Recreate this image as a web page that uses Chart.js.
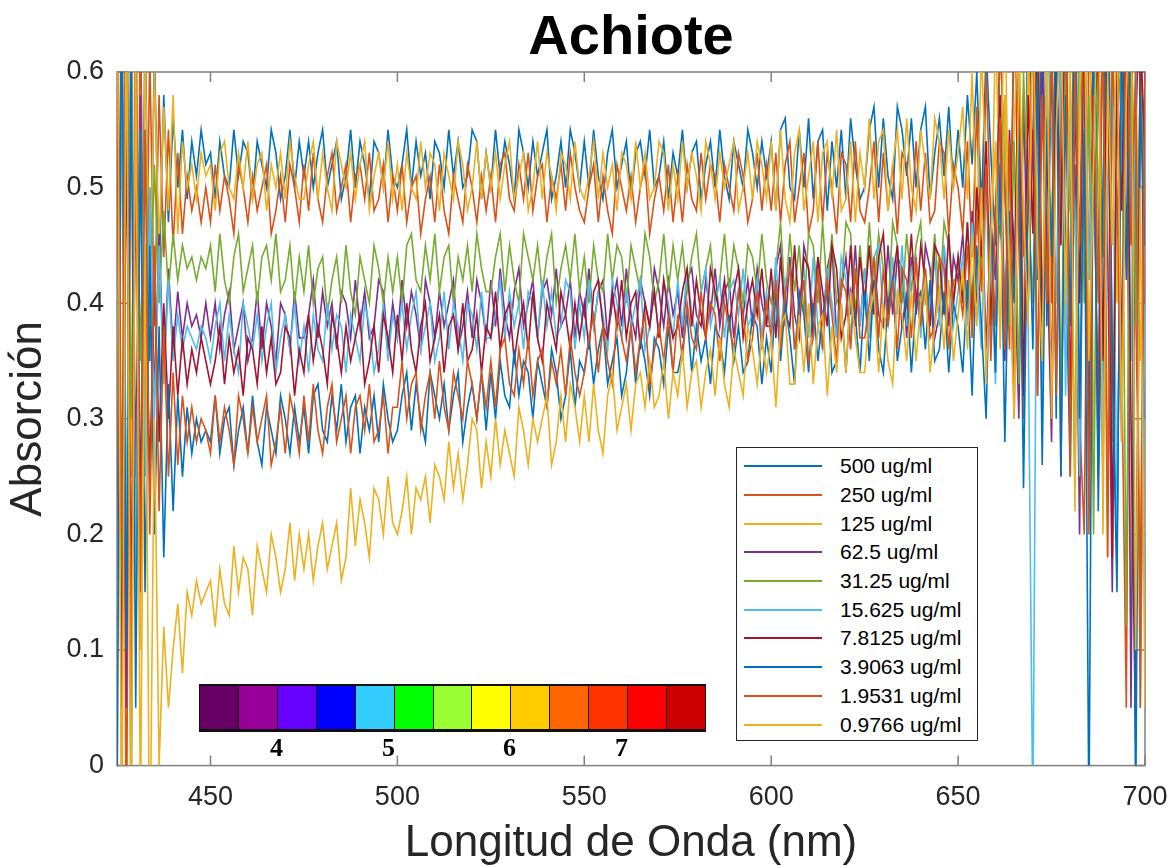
<!DOCTYPE html>
<html>
<head>
<meta charset="utf-8">
<title>Achiote</title>
<script src="https://cdn.jsdelivr.net/npm/chart.js@4.4.1/dist/chart.umd.min.js"></script>
<style>
  body { margin: 0; background: #fff; }
  #wrap { position: relative; width: 1172px; height: 867px; }
  #legend {
    position: absolute; left: 736px; top: 447px; width: 242px; height: 294px;
    box-sizing: border-box; border: 1px solid #262626; background: #fff;
    padding-top: 4px; font-family: 'Liberation Sans', Arial, sans-serif;
  }
  .row { height: 28.7px; display: flex; align-items: center; }
  .row .swatch { margin-left: 7px; width: 78px; height: 2px; }
  .row span { margin-left: 18px; font-size: 21px; color: #000; white-space: nowrap; }
  #phbar {
    position: absolute; left: 199px; top: 684px; width: 507px; height: 48px;
    box-sizing: border-box; border-top: 2px solid #111; border-bottom: 3px solid #111;
    border-left: 1px solid #111; display: flex;
  }
  #phbar div { flex: 1; border-right: 1px solid #111; }
  .ph { position: absolute; top: 733px; font: bold 26px 'Liberation Serif', 'Times New Roman', serif; color: #000; }
</style>
</head>
<body>
<div id="wrap">
  <canvas id="chart" width="1172" height="867"></canvas>
  <div id="legend"></div>
  <div id="phbar"></div>
</div>
<script>
// wavelengths (nm)
const wavelengths = [
  425, 426.25, 427.5, 428.75, 430, 431.25, 432.5, 433.75, 435, 436.25, 437.5, 438.75, 440, 441.25, 442.5, 443.75, 445, 446.25, 447.5, 448.75,
  450, 451.25, 452.5, 453.75, 455, 456.25, 457.5, 458.75, 460, 461.25, 462.5, 463.75, 465, 466.25, 467.5, 468.75, 470, 471.25, 472.5, 473.75,
  475, 476.25, 477.5, 478.75, 480, 481.25, 482.5, 483.75, 485, 486.25, 487.5, 488.75, 490, 491.25, 492.5, 493.75, 495, 496.25, 497.5, 498.75,
  500, 501.25, 502.5, 503.75, 505, 506.25, 507.5, 508.75, 510, 511.25, 512.5, 513.75, 515, 516.25, 517.5, 518.75, 520, 521.25, 522.5, 523.75,
  525, 526.25, 527.5, 528.75, 530, 531.25, 532.5, 533.75, 535, 536.25, 537.5, 538.75, 540, 541.25, 542.5, 543.75, 545, 546.25, 547.5, 548.75,
  550, 551.25, 552.5, 553.75, 555, 556.25, 557.5, 558.75, 560, 561.25, 562.5, 563.75, 565, 566.25, 567.5, 568.75, 570, 571.25, 572.5, 573.75,
  575, 576.25, 577.5, 578.75, 580, 581.25, 582.5, 583.75, 585, 586.25, 587.5, 588.75, 590, 591.25, 592.5, 593.75, 595, 596.25, 597.5, 598.75,
  600, 601.25, 602.5, 603.75, 605, 606.25, 607.5, 608.75, 610, 611.25, 612.5, 613.75, 615, 616.25, 617.5, 618.75, 620, 621.25, 622.5, 623.75,
  625, 626.25, 627.5, 628.75, 630, 631.25, 632.5, 633.75, 635, 636.25, 637.5, 638.75, 640, 641.25, 642.5, 643.75, 645, 646.25, 647.5, 648.75,
  650, 651.25, 652.5, 653.75, 655, 656.25, 657.5, 658.75, 660, 661.25, 662.5, 663.75, 665, 666.25, 667.5, 668.75, 670, 671.25, 672.5, 673.75,
  675, 676.25, 677.5, 678.75, 680, 681.25, 682.5, 683.75, 685, 686.25, 687.5, 688.75, 690, 691.25, 692.5, 693.75, 695, 696.25, 697.5, 698.75,
  700
];

// absorbance for each concentration
const abs500 = [
  0.75, 0.10, 0.70, -0.05, 0.68, 0.20, 0.65, 0.35, 0.62, 0.42, 0.58, 0.47, 0.56, 0.50, 0.55, 0.49, 0.54, 0.51, 0.55, 0.52,
  0.53, 0.49, 0.54, 0.51, 0.50, 0.55, 0.51, 0.54, 0.53, 0.49, 0.54, 0.52, 0.50, 0.55, 0.53, 0.49, 0.51, 0.55, 0.50, 0.54,
  0.51, 0.54, 0.50, 0.53, 0.55, 0.50, 0.52, 0.54, 0.49, 0.51, 0.55, 0.50, 0.54, 0.52, 0.49, 0.54, 0.53, 0.50, 0.55, 0.51,
  0.50, 0.52, 0.55, 0.50, 0.54, 0.51, 0.53, 0.49, 0.54, 0.53, 0.50, 0.55, 0.51, 0.54, 0.50, 0.51, 0.55, 0.54, 0.49, 0.53,
  0.50, 0.55, 0.51, 0.54, 0.52, 0.49, 0.55, 0.53, 0.50, 0.54, 0.51, 0.53, 0.55, 0.49, 0.51, 0.54, 0.50, 0.55, 0.53, 0.50,
  0.54, 0.50, 0.55, 0.51, 0.49, 0.53, 0.55, 0.50, 0.52, 0.54, 0.49, 0.53, 0.54, 0.51, 0.55, 0.50, 0.51, 0.54, 0.49, 0.53,
  0.51, 0.55, 0.50, 0.53, 0.54, 0.49, 0.52, 0.54, 0.50, 0.55, 0.51, 0.49, 0.54, 0.52, 0.50, 0.55, 0.53, 0.50, 0.54, 0.51,
  0.54, 0.48, 0.55, 0.56, 0.50, 0.49, 0.55, 0.50, 0.56, 0.49, 0.54, 0.55, 0.48, 0.54, 0.50, 0.55, 0.49, 0.56, 0.52, 0.49,
  0.50, 0.55, 0.57, 0.50, 0.56, 0.51, 0.49, 0.57, 0.55, 0.51, 0.56, 0.50, 0.55, 0.57, 0.49, 0.53, 0.56, 0.51, 0.57, 0.50,
  0.55, 0.50, 0.58, 0.52, 0.60, 0.48, 0.62, 0.53, 0.45, 0.64, 0.50, 0.40, 0.66, 0.48, 0.35, 0.68, 0.52, 0.42, 0.70, 0.38,
  0.62, 0.30, 0.66, 0.45, 0.25, 0.70, 0.40, 0.60, 0.28, 0.66, 0.48, 0.25, 0.70, 0.35, 0.18, 0.62, 0.45, 0.68, 0.05, 0.60,
  0.55
];
const abs250 = [
  0.20, 0.72, -0.10, 0.70, 0.15, 0.66, 0.30, 0.62, 0.38, 0.58, 0.44, 0.55, 0.45, 0.53, 0.46, 0.51, 0.48, 0.50, 0.47, 0.50,
  0.47, 0.52, 0.48, 0.51, 0.49, 0.46, 0.52, 0.50, 0.47, 0.51, 0.48, 0.50, 0.52, 0.46, 0.48, 0.51, 0.47, 0.52, 0.50, 0.47,
  0.52, 0.48, 0.53, 0.49, 0.47, 0.51, 0.53, 0.48, 0.50, 0.52, 0.47, 0.51, 0.52, 0.49, 0.53, 0.48, 0.49, 0.52, 0.47, 0.51,
  0.48, 0.52, 0.47, 0.50, 0.51, 0.46, 0.49, 0.51, 0.47, 0.52, 0.48, 0.46, 0.51, 0.49, 0.47, 0.52, 0.50, 0.47, 0.51, 0.48,
  0.51, 0.47, 0.52, 0.53, 0.49, 0.48, 0.52, 0.49, 0.53, 0.48, 0.51, 0.52, 0.47, 0.51, 0.49, 0.52, 0.48, 0.53, 0.50, 0.48,
  0.47, 0.50, 0.52, 0.47, 0.51, 0.48, 0.46, 0.52, 0.50, 0.48, 0.51, 0.47, 0.50, 0.52, 0.46, 0.49, 0.51, 0.48, 0.52, 0.47,
  0.51, 0.47, 0.52, 0.49, 0.48, 0.53, 0.49, 0.52, 0.51, 0.47, 0.52, 0.50, 0.48, 0.53, 0.51, 0.47, 0.49, 0.53, 0.48, 0.52,
  0.48, 0.53, 0.47, 0.52, 0.54, 0.47, 0.50, 0.53, 0.46, 0.48, 0.54, 0.47, 0.53, 0.50, 0.46, 0.53, 0.52, 0.47, 0.54, 0.48,
  0.47, 0.50, 0.54, 0.47, 0.53, 0.48, 0.52, 0.46, 0.53, 0.52, 0.47, 0.54, 0.48, 0.53, 0.47, 0.48, 0.54, 0.53, 0.46, 0.52,
  0.50, 0.46, 0.54, 0.44, 0.57, 0.42, 0.60, 0.47, 0.38, 0.64, 0.50, 0.36, 0.66, 0.45, 0.30, 0.62, 0.52, 0.68, 0.33, 0.58,
  0.40, 0.70, 0.25, 0.60, 0.48, 0.68, 0.30, 0.20, 0.64, 0.52, 0.32, 0.70, 0.22, 0.58, 0.68, 0.35, 0.05, 0.66, 0.40, 0.15,
  0.62
];
const abs125 = [
  0.68, -0.05, 0.75, 0.25, 0.70, 0.10, 0.62, 0.40, 0.60, 0.45, 0.57, 0.48, 0.58, 0.46, 0.54, 0.50, 0.52, 0.49, 0.53, 0.51,
  0.52, 0.48, 0.53, 0.54, 0.50, 0.49, 0.53, 0.50, 0.54, 0.49, 0.52, 0.53, 0.48, 0.52, 0.50, 0.53, 0.49, 0.54, 0.51, 0.49,
  0.49, 0.52, 0.54, 0.49, 0.53, 0.50, 0.48, 0.54, 0.52, 0.50, 0.53, 0.49, 0.52, 0.54, 0.48, 0.51, 0.53, 0.50, 0.54, 0.49,
  0.52, 0.48, 0.53, 0.50, 0.49, 0.54, 0.50, 0.53, 0.52, 0.48, 0.53, 0.51, 0.49, 0.54, 0.52, 0.48, 0.50, 0.54, 0.49, 0.53,
  0.50, 0.53, 0.49, 0.52, 0.54, 0.49, 0.51, 0.53, 0.48, 0.50, 0.54, 0.49, 0.53, 0.51, 0.48, 0.53, 0.52, 0.49, 0.54, 0.50,
  0.49, 0.51, 0.54, 0.49, 0.53, 0.50, 0.52, 0.48, 0.53, 0.52, 0.49, 0.54, 0.50, 0.53, 0.49, 0.50, 0.54, 0.53, 0.48, 0.52,
  0.49, 0.54, 0.50, 0.53, 0.51, 0.48, 0.54, 0.52, 0.49, 0.53, 0.50, 0.52, 0.54, 0.48, 0.50, 0.53, 0.49, 0.54, 0.52, 0.49,
  0.54, 0.48, 0.55, 0.49, 0.47, 0.53, 0.55, 0.48, 0.51, 0.54, 0.47, 0.53, 0.54, 0.49, 0.55, 0.48, 0.49, 0.54, 0.47, 0.53,
  0.50, 0.56, 0.49, 0.54, 0.55, 0.48, 0.52, 0.55, 0.49, 0.56, 0.50, 0.48, 0.55, 0.52, 0.49, 0.56, 0.54, 0.49, 0.55, 0.50,
  0.53, 0.57, 0.49, 0.60, 0.46, 0.62, 0.50, 0.42, 0.64, 0.48, 0.68, 0.40, 0.55, 0.66, 0.35, 0.62, 0.48, 0.70, 0.38, 0.64,
  0.30, 0.58, 0.68, 0.38, 0.55, 0.22, 0.66, 0.45, 0.70, 0.28, 0.50, 0.62, 0.18, 0.68, 0.40, 0.55, 0.70, 0.10, 0.62, 0.35,
  0.50
];
const abs62_5 = [
  0.10, 0.66, 0.05, 0.62, 0.25, 0.58, 0.30, 0.50, 0.32, 0.46, 0.34, 0.43, 0.36, 0.41, 0.37, 0.40, 0.38, 0.39, 0.37, 0.40,
  0.37, 0.40, 0.36, 0.39, 0.41, 0.36, 0.38, 0.40, 0.35, 0.37, 0.41, 0.36, 0.40, 0.38, 0.35, 0.40, 0.39, 0.36, 0.41, 0.37,
  0.37, 0.39, 0.42, 0.37, 0.41, 0.38, 0.40, 0.36, 0.41, 0.40, 0.37, 0.42, 0.38, 0.41, 0.37, 0.38, 0.42, 0.41, 0.36, 0.40,
  0.37, 0.42, 0.38, 0.41, 0.39, 0.36, 0.42, 0.40, 0.37, 0.41, 0.38, 0.40, 0.42, 0.36, 0.38, 0.41, 0.37, 0.42, 0.40, 0.37,
  0.42, 0.38, 0.43, 0.39, 0.37, 0.41, 0.43, 0.38, 0.40, 0.42, 0.37, 0.41, 0.42, 0.39, 0.43, 0.38, 0.39, 0.42, 0.37, 0.41,
  0.39, 0.43, 0.38, 0.41, 0.42, 0.37, 0.40, 0.42, 0.38, 0.43, 0.39, 0.37, 0.42, 0.40, 0.38, 0.43, 0.41, 0.38, 0.42, 0.39,
  0.41, 0.37, 0.42, 0.43, 0.39, 0.38, 0.42, 0.39, 0.43, 0.38, 0.41, 0.42, 0.37, 0.41, 0.39, 0.42, 0.38, 0.43, 0.40, 0.38,
  0.38, 0.43, 0.45, 0.38, 0.44, 0.39, 0.37, 0.45, 0.43, 0.39, 0.44, 0.38, 0.43, 0.45, 0.37, 0.41, 0.44, 0.39, 0.45, 0.38,
  0.43, 0.37, 0.44, 0.39, 0.38, 0.45, 0.39, 0.44, 0.43, 0.37, 0.44, 0.41, 0.38, 0.45, 0.43, 0.37, 0.39, 0.45, 0.38, 0.44,
  0.42, 0.46, 0.39, 0.48, 0.40, 0.50, 0.36, 0.47, 0.42, 0.55, 0.35, 0.52, 0.45, 0.30, 0.58, 0.40, 0.55, 0.32, 0.62, 0.45,
  0.28, 0.60, 0.48, 0.68, 0.32, 0.52, 0.20, 0.64, 0.42, 0.58, 0.25, 0.70, 0.45, 0.15, 0.60, 0.35, 0.66, 0.05, 0.55, 0.68,
  0.30
];
const abs31_25 = [
  0.65, 0.15, 0.70, 0.30, 0.58, 0.35, 0.55, 0.38, 0.52, 0.40, 0.48, 0.41, 0.46, 0.42, 0.45, 0.43, 0.44, 0.42, 0.44, 0.43,
  0.45, 0.41, 0.46, 0.42, 0.40, 0.44, 0.46, 0.41, 0.43, 0.45, 0.40, 0.44, 0.45, 0.42, 0.46, 0.41, 0.42, 0.45, 0.40, 0.44,
  0.41, 0.45, 0.40, 0.43, 0.44, 0.39, 0.42, 0.44, 0.40, 0.45, 0.41, 0.39, 0.44, 0.42, 0.40, 0.45, 0.43, 0.40, 0.44, 0.41,
  0.44, 0.40, 0.45, 0.46, 0.42, 0.41, 0.45, 0.42, 0.46, 0.41, 0.44, 0.45, 0.40, 0.44, 0.42, 0.45, 0.41, 0.46, 0.43, 0.41,
  0.41, 0.44, 0.46, 0.41, 0.45, 0.42, 0.40, 0.46, 0.44, 0.42, 0.45, 0.41, 0.44, 0.46, 0.40, 0.43, 0.45, 0.42, 0.46, 0.41,
  0.44, 0.40, 0.45, 0.42, 0.41, 0.46, 0.42, 0.45, 0.44, 0.40, 0.45, 0.43, 0.41, 0.46, 0.44, 0.40, 0.42, 0.46, 0.41, 0.45,
  0.42, 0.45, 0.41, 0.44, 0.46, 0.41, 0.43, 0.45, 0.40, 0.42, 0.46, 0.41, 0.45, 0.43, 0.40, 0.45, 0.44, 0.41, 0.46, 0.42,
  0.40, 0.43, 0.47, 0.40, 0.46, 0.41, 0.45, 0.39, 0.46, 0.45, 0.40, 0.47, 0.41, 0.46, 0.40, 0.41, 0.47, 0.46, 0.39, 0.45,
  0.40, 0.47, 0.41, 0.46, 0.43, 0.39, 0.47, 0.45, 0.40, 0.46, 0.41, 0.45, 0.47, 0.40, 0.41, 0.46, 0.40, 0.47, 0.45, 0.40,
  0.44, 0.41, 0.47, 0.40, 0.50, 0.43, 0.54, 0.38, 0.48, 0.46, 0.58, 0.38, 0.54, 0.33, 0.60, 0.48, 0.40, 0.64, 0.35, 0.58,
  0.45, 0.68, 0.30, 0.62, 0.50, 0.25, 0.66, 0.40, 0.58, 0.20, 0.64, 0.44, 0.70, 0.28, 0.55, 0.62, 0.12, 0.68, 0.38, 0.60,
  0.45
];
const abs15_625 = [
  0.05, 0.62, 0.20, 0.66, 0.15, 0.55, 0.25, 0.50, 0.30, 0.45, 0.33, 0.42, 0.35, 0.39, 0.36, 0.38, 0.37, 0.36, 0.38, 0.37,
  0.35, 0.38, 0.40, 0.35, 0.39, 0.36, 0.34, 0.40, 0.38, 0.36, 0.39, 0.35, 0.38, 0.40, 0.34, 0.37, 0.39, 0.36, 0.40, 0.35,
  0.38, 0.34, 0.39, 0.36, 0.35, 0.40, 0.36, 0.39, 0.38, 0.34, 0.39, 0.37, 0.35, 0.40, 0.38, 0.34, 0.36, 0.40, 0.35, 0.39,
  0.37, 0.40, 0.36, 0.39, 0.41, 0.36, 0.38, 0.40, 0.35, 0.37, 0.41, 0.36, 0.40, 0.38, 0.35, 0.40, 0.39, 0.36, 0.41, 0.37,
  0.37, 0.39, 0.42, 0.37, 0.41, 0.38, 0.40, 0.36, 0.41, 0.40, 0.37, 0.42, 0.38, 0.41, 0.37, 0.38, 0.42, 0.41, 0.36, 0.40,
  0.37, 0.42, 0.38, 0.41, 0.39, 0.36, 0.42, 0.40, 0.37, 0.41, 0.38, 0.40, 0.42, 0.36, 0.38, 0.41, 0.37, 0.42, 0.40, 0.37,
  0.42, 0.38, 0.43, 0.39, 0.37, 0.41, 0.43, 0.38, 0.40, 0.42, 0.37, 0.41, 0.42, 0.39, 0.43, 0.38, 0.39, 0.42, 0.37, 0.41,
  0.38, 0.44, 0.37, 0.42, 0.43, 0.36, 0.40, 0.43, 0.37, 0.44, 0.38, 0.36, 0.43, 0.40, 0.37, 0.44, 0.42, 0.37, 0.43, 0.38,
  0.43, 0.37, 0.44, 0.45, 0.39, 0.38, 0.44, 0.39, 0.45, 0.38, 0.43, 0.44, 0.37, 0.43, 0.39, 0.44, 0.38, 0.45, 0.41, 0.38,
  0.41, 0.44, 0.38, 0.47, 0.42, 0.36, 0.50, 0.44, 0.33, 0.55, 0.40, 0.52, 0.35, 0.60, 0.45, 0.38, -0.05, 0.58, 0.30, 0.64,
  0.55, 0.40, 0.64, 0.32, 0.58, 0.48, 0.25, 0.66, 0.42, 0.55, 0.68, 0.28, 0.50, 0.62, 0.20, 0.58, 0.66, 0.35, 0.60, 0.05,
  0.40
];
const abs7_8125 = [
  0.60, 0.05, 0.55, 0.15, 0.50, 0.22, 0.45, 0.25, 0.42, 0.28, 0.40, 0.30, 0.38, 0.32, 0.37, 0.33, 0.36, 0.34, 0.37, 0.35,
  0.33, 0.35, 0.38, 0.33, 0.37, 0.34, 0.36, 0.32, 0.37, 0.36, 0.33, 0.38, 0.34, 0.37, 0.33, 0.34, 0.38, 0.37, 0.32, 0.36,
  0.34, 0.39, 0.35, 0.38, 0.36, 0.33, 0.39, 0.37, 0.34, 0.38, 0.35, 0.37, 0.39, 0.33, 0.35, 0.38, 0.34, 0.39, 0.37, 0.34,
  0.39, 0.35, 0.40, 0.36, 0.34, 0.38, 0.40, 0.35, 0.37, 0.39, 0.34, 0.38, 0.39, 0.36, 0.40, 0.35, 0.36, 0.39, 0.34, 0.38,
  0.37, 0.41, 0.36, 0.39, 0.40, 0.35, 0.38, 0.40, 0.36, 0.41, 0.37, 0.35, 0.40, 0.38, 0.36, 0.41, 0.39, 0.36, 0.40, 0.37,
  0.40, 0.36, 0.41, 0.42, 0.38, 0.37, 0.41, 0.38, 0.42, 0.37, 0.40, 0.41, 0.36, 0.40, 0.38, 0.41, 0.37, 0.42, 0.39, 0.37,
  0.38, 0.41, 0.43, 0.38, 0.42, 0.39, 0.37, 0.43, 0.41, 0.39, 0.42, 0.38, 0.41, 0.43, 0.37, 0.40, 0.42, 0.39, 0.43, 0.38,
  0.43, 0.37, 0.44, 0.39, 0.38, 0.45, 0.39, 0.44, 0.43, 0.37, 0.44, 0.41, 0.38, 0.45, 0.43, 0.37, 0.39, 0.45, 0.38, 0.44,
  0.40, 0.45, 0.39, 0.44, 0.46, 0.39, 0.42, 0.45, 0.38, 0.40, 0.46, 0.39, 0.45, 0.42, 0.38, 0.45, 0.44, 0.39, 0.46, 0.40,
  0.44, 0.40, 0.47, 0.38, 0.50, 0.44, 0.54, 0.38, 0.48, 0.58, 0.36, 0.55, 0.42, 0.62, 0.32, 0.58, 0.46, 0.66, 0.38, 0.55,
  0.32, 0.62, 0.45, 0.70, 0.28, 0.58, 0.40, 0.66, 0.22, 0.55, 0.62, 0.35, 0.68, 0.18, 0.60, 0.48, 0.70, 0.30, 0.02, 0.64,
  0.52
];
const abs3_9063 = [
  -0.05, 0.70, 0.10, 0.62, 0.05, 0.55, 0.15, 0.45, 0.20, 0.38, 0.18, 0.33, 0.22, 0.32, 0.25, 0.31, 0.27, 0.30, 0.28, 0.29,
  0.28, 0.32, 0.27, 0.30, 0.31, 0.26, 0.29, 0.31, 0.27, 0.32, 0.28, 0.26, 0.31, 0.29, 0.27, 0.32, 0.30, 0.27, 0.31, 0.28,
  0.31, 0.27, 0.32, 0.33, 0.29, 0.28, 0.32, 0.29, 0.33, 0.28, 0.31, 0.32, 0.27, 0.31, 0.29, 0.32, 0.28, 0.33, 0.30, 0.28,
  0.29, 0.32, 0.34, 0.29, 0.33, 0.30, 0.28, 0.34, 0.32, 0.30, 0.33, 0.29, 0.32, 0.34, 0.28, 0.31, 0.33, 0.30, 0.34, 0.29,
  0.34, 0.30, 0.35, 0.32, 0.31, 0.36, 0.32, 0.35, 0.34, 0.30, 0.35, 0.33, 0.31, 0.36, 0.34, 0.30, 0.32, 0.36, 0.31, 0.35,
  0.34, 0.37, 0.33, 0.36, 0.38, 0.33, 0.35, 0.37, 0.32, 0.34, 0.38, 0.33, 0.37, 0.35, 0.32, 0.37, 0.36, 0.33, 0.38, 0.34,
  0.34, 0.36, 0.39, 0.34, 0.38, 0.35, 0.37, 0.33, 0.38, 0.37, 0.34, 0.39, 0.35, 0.38, 0.34, 0.35, 0.39, 0.38, 0.33, 0.37,
  0.34, 0.41, 0.35, 0.40, 0.37, 0.33, 0.41, 0.39, 0.34, 0.40, 0.35, 0.39, 0.41, 0.34, 0.35, 0.40, 0.34, 0.41, 0.39, 0.34,
  0.41, 0.35, 0.42, 0.36, 0.34, 0.40, 0.42, 0.35, 0.38, 0.41, 0.34, 0.40, 0.41, 0.36, 0.42, 0.35, 0.36, 0.41, 0.34, 0.40,
  0.38, 0.34, 0.42, 0.32, 0.45, 0.38, 0.30, 0.48, 0.34, 0.52, 0.28, 0.48, 0.40, 0.56, 0.24, 0.52, 0.36, 0.60, 0.26, 0.56,
  0.44, 0.66, 0.25, 0.58, 0.38, 0.68, 0.30, 0.55, -0.05, 0.62, 0.22, 0.50, 0.70, 0.35, 0.15, 0.64, 0.42, 0.68, -0.05, 0.58,
  0.45
];
const abs1_9531 = [
  0.72, 0.20, 0.75, 0.05, 0.66, 0.15, 0.55, 0.20, 0.45, 0.22, 0.38, 0.25, 0.34, 0.26, 0.32, 0.28, 0.31, 0.28, 0.30, 0.29,
  0.27, 0.32, 0.28, 0.31, 0.29, 0.26, 0.32, 0.30, 0.27, 0.31, 0.28, 0.30, 0.32, 0.26, 0.28, 0.31, 0.27, 0.32, 0.30, 0.27,
  0.32, 0.28, 0.33, 0.29, 0.27, 0.31, 0.33, 0.28, 0.30, 0.32, 0.27, 0.31, 0.32, 0.29, 0.33, 0.28, 0.29, 0.32, 0.27, 0.31,
  0.31, 0.35, 0.30, 0.33, 0.34, 0.29, 0.32, 0.34, 0.30, 0.35, 0.31, 0.29, 0.34, 0.32, 0.30, 0.35, 0.33, 0.30, 0.34, 0.31,
  0.35, 0.31, 0.36, 0.37, 0.33, 0.32, 0.36, 0.33, 0.37, 0.32, 0.35, 0.36, 0.31, 0.35, 0.33, 0.36, 0.32, 0.37, 0.34, 0.32,
  0.34, 0.37, 0.39, 0.34, 0.38, 0.35, 0.33, 0.39, 0.37, 0.35, 0.38, 0.34, 0.37, 0.39, 0.33, 0.36, 0.38, 0.35, 0.39, 0.34,
  0.39, 0.35, 0.40, 0.37, 0.36, 0.41, 0.37, 0.40, 0.39, 0.35, 0.40, 0.38, 0.36, 0.41, 0.39, 0.35, 0.37, 0.41, 0.36, 0.40,
  0.37, 0.42, 0.36, 0.41, 0.43, 0.36, 0.39, 0.42, 0.35, 0.37, 0.43, 0.36, 0.42, 0.39, 0.35, 0.42, 0.41, 0.36, 0.43, 0.37,
  0.37, 0.40, 0.44, 0.37, 0.43, 0.38, 0.42, 0.36, 0.43, 0.42, 0.37, 0.44, 0.38, 0.43, 0.37, 0.38, 0.44, 0.43, 0.36, 0.42,
  0.42, 0.39, 0.45, 0.37, 0.48, 0.41, 0.52, 0.35, 0.48, 0.56, 0.36, 0.54, 0.30, 0.60, 0.44, 0.50, 0.64, 0.32, 0.58, 0.40,
  0.64, 0.32, 0.55, 0.68, 0.25, 0.60, 0.45, 0.70, 0.20, 0.58, 0.40, 0.66, 0.18, 0.62, 0.50, 0.28, 0.68, 0.45, 0.60, 0.05,
  0.62
];
const abs0_9766 = [
  0.75, -0.10, 0.70, -0.10, 0.62, -0.05, 0.45, -0.10, 0.30, 0.00, 0.12, 0.05, 0.10, 0.14, 0.08, 0.15, 0.13, 0.16, 0.14, 0.15,
  0.16, 0.12, 0.17, 0.14, 0.13, 0.19, 0.15, 0.18, 0.17, 0.13, 0.19, 0.17, 0.15, 0.20, 0.18, 0.15, 0.17, 0.21, 0.16, 0.20,
  0.17, 0.20, 0.16, 0.19, 0.21, 0.17, 0.19, 0.21, 0.16, 0.18, 0.24, 0.19, 0.23, 0.21, 0.18, 0.24, 0.23, 0.20, 0.25, 0.21,
  0.20, 0.22, 0.25, 0.20, 0.24, 0.23, 0.25, 0.21, 0.26, 0.25, 0.23, 0.28, 0.24, 0.27, 0.23, 0.26, 0.30, 0.29, 0.24, 0.28,
  0.25, 0.30, 0.26, 0.29, 0.27, 0.25, 0.31, 0.29, 0.26, 0.30, 0.28, 0.30, 0.32, 0.26, 0.28, 0.32, 0.28, 0.33, 0.31, 0.28,
  0.32, 0.28, 0.33, 0.29, 0.27, 0.32, 0.34, 0.29, 0.31, 0.33, 0.29, 0.33, 0.34, 0.31, 0.35, 0.31, 0.32, 0.35, 0.30, 0.34,
  0.32, 0.36, 0.31, 0.34, 0.35, 0.31, 0.34, 0.36, 0.32, 0.37, 0.33, 0.31, 0.36, 0.34, 0.32, 0.38, 0.36, 0.33, 0.37, 0.34,
  0.37, 0.31, 0.38, 0.39, 0.33, 0.33, 0.39, 0.34, 0.40, 0.33, 0.38, 0.39, 0.32, 0.38, 0.34, 0.40, 0.34, 0.41, 0.37, 0.34,
  0.34, 0.39, 0.41, 0.34, 0.40, 0.35, 0.33, 0.41, 0.39, 0.35, 0.41, 0.35, 0.40, 0.42, 0.34, 0.38, 0.41, 0.36, 0.42, 0.35,
  0.39, 0.43, 0.36, 0.46, 0.38, 0.50, 0.33, 0.46, 0.54, 0.36, 0.58, 0.42, 0.30, 0.62, 0.48, 0.38, 0.66, 0.45, 0.35, 0.64,
  0.30, 0.55, 0.66, 0.40, 0.62, 0.24, 0.58, 0.68, 0.35, 0.52, 0.70, 0.20, 0.60, 0.45, 0.66, 0.28, 0.58, 0.70, 0.10, 0.50,
  0.05
];

const seriesLabels = ['500 ug/ml', '250 ug/ml', '125 ug/ml', '62.5 ug/ml', '31.25 ug/ml',
  '15.625 ug/ml', '7.8125 ug/ml', '3.9063 ug/ml', '1.9531 ug/ml', '0.9766 ug/ml'];
const seriesValues = [abs500, abs250, abs125, abs62_5, abs31_25,
  abs15_625, abs7_8125, abs3_9063, abs1_9531, abs0_9766];
const xTicks = [450, 500, 550, 600, 650, 700];
const yTicks = [0, 0.1, 0.2, 0.3, 0.4, 0.5, 0.6];

// pH colour strip
const phColors = ['#660066', '#990099', '#6600ff', '#0000ff', '#33ccff', '#00ff00', '#99ff33',
  '#ffff00', '#ffcc00', '#ff6600', '#ff3300', '#ff0000', '#cc0000'];
const phLabels = ['4', '5', '6', '7'];

// MATLAB default line colours
const lineColors = ['#0072BD', '#D95319', '#EDB120', '#7E2F8E', '#77AC30', '#4DBEEE', '#A2142F'];

const FONT = "'Liberation Sans', Arial, sans-serif";

// box and inward ticks like MATLAB axes
const axesBox = {
  id: 'axesBox',
  beforeDatasetsDraw(chart) {
    const { ctx, chartArea: a, scales: { x, y } } = chart;
    ctx.save();
    ctx.strokeStyle = '#808080';
    ctx.lineWidth = 1.5;
    ctx.strokeRect(a.left, a.top, a.right - a.left, a.bottom - a.top);
    ctx.beginPath();
    xTicks.forEach(v => {
      const px = x.getPixelForValue(v);
      ctx.moveTo(px, a.bottom); ctx.lineTo(px, a.bottom - 10);
      ctx.moveTo(px, a.top); ctx.lineTo(px, a.top + 10);
    });
    yTicks.forEach(v => {
      const py = y.getPixelForValue(v);
      ctx.moveTo(a.left, py); ctx.lineTo(a.left + 10, py);
      ctx.moveTo(a.right, py); ctx.lineTo(a.right - 10, py);
    });
    ctx.stroke();
    ctx.restore();
  }
};

function buildDatasets() {
  return seriesValues.map((vals, i) => ({
    label: seriesLabels[i],
    data: vals.map((v, j) => ({ x: wavelengths[j], y: v })),
    borderColor: lineColors[i % lineColors.length],
    borderWidth: 1.6,
    pointRadius: 0,
    tension: 0,
    clip: 0,
    order: seriesValues.length - i // later series drawn on top
  }));
}

function buildLegend() {
  const box = document.getElementById('legend');
  seriesLabels.forEach((label, i) => {
    const row = document.createElement('div');
    row.className = 'row';
    const sw = document.createElement('div');
    sw.className = 'swatch';
    sw.style.background = lineColors[i % lineColors.length];
    const txt = document.createElement('span');
    txt.textContent = label;
    row.appendChild(sw);
    row.appendChild(txt);
    box.appendChild(row);
  });
}

function buildPhBar() {
  const bar = document.getElementById('phbar');
  phColors.forEach(c => {
    const cell = document.createElement('div');
    cell.style.background = c;
    bar.appendChild(cell);
  });
  const wrap = document.getElementById('wrap');
  const lefts = [270, 382, 503, 615];
  phLabels.forEach((t, i) => {
    const s = document.createElement('div');
    s.className = 'ph';
    s.style.left = lefts[i] + 'px';
    s.textContent = t;
    wrap.appendChild(s);
  });
}

function createChart() {
  const ctx = document.getElementById('chart').getContext('2d');
  new Chart(ctx, {
    type: 'line',
    data: { datasets: buildDatasets() },
    options: {
      responsive: false,
      animation: false,
      events: [],
      layout: { padding: { left: 0, right: 27, top: 0, bottom: 0 } },
      plugins: {
        legend: { display: false },
        tooltip: { enabled: false },
        title: {
          display: true,
          text: 'Achiote',
          fullSize: false,
          color: '#000',
          font: { family: FONT, size: 56, weight: 'bold', lineHeight: 1 },
          padding: { top: 11, bottom: 5 }
        }
      },
      scales: {
        x: {
          type: 'linear',
          min: 425,
          max: 700,
          afterBuildTicks: s => { s.ticks = xTicks.map(v => ({ value: v })); },
          afterFit: s => { s.paddingLeft = 0; s.paddingRight = 0; },
          grid: { display: false, drawTicks: false },
          border: { display: false },
          ticks: {
            color: '#262626', padding: 16, maxRotation: 0, autoSkip: false,
            font: { family: FONT, size: 27 },
            callback: v => String(v)
          },
          title: {
            display: true, text: 'Longitud de Onda (nm)', color: '#262626',
            font: { family: FONT, size: 44, lineHeight: 1 },
            padding: { top: -8, bottom: 1 }
          }
        },
        y: {
          min: 0,
          max: 0.6,
          afterBuildTicks: s => { s.ticks = yTicks.map(v => ({ value: v })); },
          grid: { display: false, drawTicks: false },
          border: { display: false },
          ticks: {
            color: '#262626', padding: 13,
            font: { family: FONT, size: 27 },
            callback: v => (v === 0 ? '0' : v.toFixed(1))
          },
          title: {
            display: true, text: 'Absorción', color: '#262626',
            font: { family: FONT, size: 44, lineHeight: 1 },
            padding: { top: 7, bottom: 2.5 }
          }
        }
      }
    },
    plugins: [axesBox]
  });
}

window.onload = function () {
  buildLegend();
  buildPhBar();
  createChart();
};
</script>
</body>
</html>
